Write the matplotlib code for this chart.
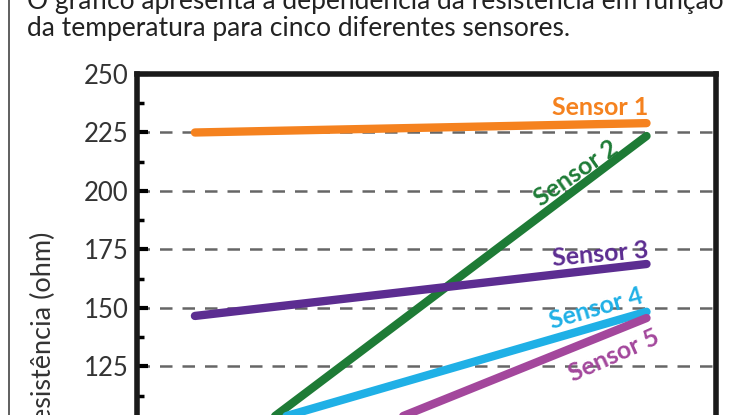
import matplotlib
matplotlib.use("Agg")
import matplotlib.pyplot as plt
from matplotlib.lines import Line2D
from matplotlib.ticker import MultipleLocator

plt.rcParams['font.family'] = ['Lato', 'DejaVu Sans']

# data
temps = [10, 88]
sensor_names = ["Sensor 1", "Sensor 2", "Sensor 3", "Sensor 4", "Sensor 5"]
s1 = [225, 229]
s2 = [78, 223.5]
s3 = [146.6, 168.8]
s4 = [92.5, 148.4]
s5 = [68, 145.7]
series = [s1, s2, s3, s4, s5]
colors = ["#f5821f", "#1e7b36", "#5c2d91", "#1fb0e6", "#a3479c"]
# label placement (x, y, rotation)
label_pos = [(80, 235.8, 0), (75.8, 207.5, 35), (80, 172.8, 5), (79.4, 149.8, 16), (82.4, 129.6, 24)]
yticks = [50, 75, 100, 125, 150, 175, 200, 225, 250]

fig = plt.figure(figsize=(7.48, 4.15), dpi=100)

# text above the chart
fig.text(27/748, 1 - 9/415, "O gráfico apresenta a dependência da resistência em função",
         fontsize=19, color="#222222", va="baseline", ha="left")
fig.text(27/748, 1 - 36/415, "da temperatura para cinco diferentes sensores.",
         fontsize=19, color="#222222", va="baseline", ha="left")
fig.add_artist(Line2D([8.5/748, 8.5/748], [0, 1], color="#444444", lw=1.2))

ax = fig.add_axes([0.1832, -0.306, 0.774, 1.1277])
for ys, c in zip(series, colors):
    ax.plot(temps, ys, color=c, lw=6, solid_capstyle="round", zorder=3)
for name, (x, y, r), c in zip(sensor_names, label_pos, colors):
    ax.text(x, y, name, color=c, fontsize=18, fontweight="bold", rotation=r,
            ha="center", va="center", rotation_mode="anchor", zorder=4)

ax.set_xlim(0, 100)
ax.set_ylim(50, 250)
ax.set_yticks(yticks)
ax.yaxis.set_minor_locator(MultipleLocator(12.5))
ax.tick_params(axis="y", which="major", direction="in", length=8, width=3,
               labelsize=18.5, labelcolor="#333333", pad=6)
ax.tick_params(axis="y", which="minor", direction="in", length=5, width=2.5)
ax.set_xticks([])
for yv in yticks[:-1]:
    ax.axhline(yv, color="#666666", lw=1.8, dashes=(5, 4), zorder=1)
for side in ["left", "top", "right", "bottom"]:
    ax.spines[side].set_linewidth(4)
    ax.spines[side].set_color("#1a1a1a")

fig.text(43/748, 1 - 232/415, "Resistência (ohm)", rotation=90, fontsize=19.5,
         color="#333333", ha="center", va="top")

fig.savefig("out.png", dpi=100)
